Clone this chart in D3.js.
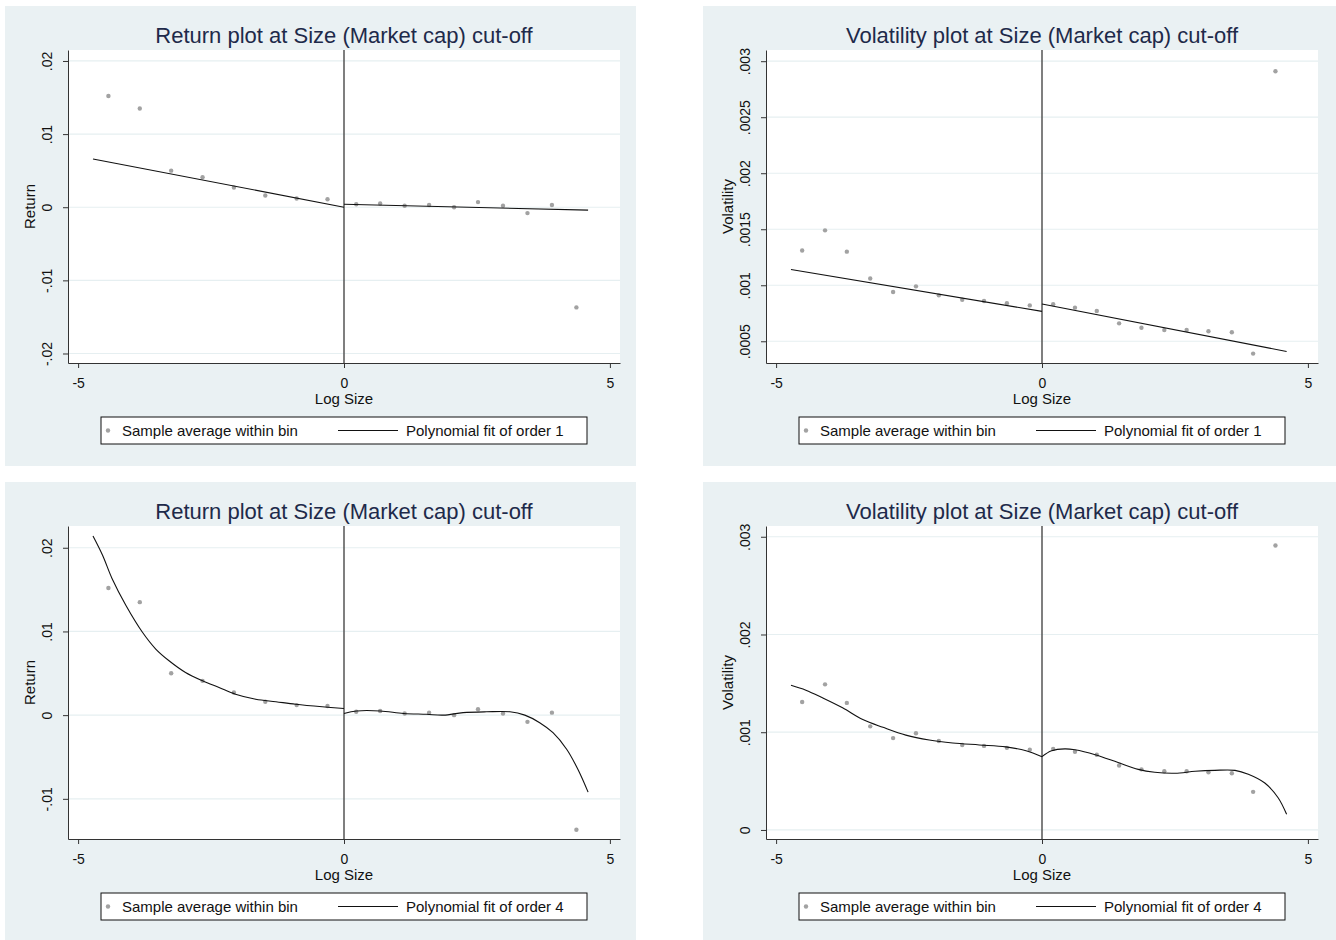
<!DOCTYPE html>
<html>
<head>
<meta charset="utf-8">
<script src="https://cdn.jsdelivr.net/npm/d3@7"></script>
<style>
  body { margin: 0; background: #fff; }
  svg { display: block; font-family: "Liberation Sans", Arial, sans-serif; }
</style>
</head>
<body>
<svg id="chart" width="1336" height="940"></svg>
<script>
// Binned sample averages of return, by log size bin centre
const returnBinX = [-4.43, -3.84, -3.25, -2.66, -2.07, -1.48, -0.89, -0.31,
                    0.23, 0.68, 1.14, 1.60, 2.07, 2.52, 2.99, 3.45, 3.91, 4.37];
const returnBinY = [.0152, .0135, .0050, .0041, .0027, .0016, .0012, .0011,
                    .0004, .0005, .0002, .0003, .0000, .0007, .0002, -.0008, .0003, -.0137];

// Binned sample averages of volatility
const volBinX = [-4.51, -4.08, -3.67, -3.23, -2.80, -2.37, -1.94, -1.50, -1.09, -0.66, -0.23,
                 0.21, 0.62, 1.03, 1.45, 1.87, 2.30, 2.72, 3.13, 3.57, 3.97, 4.39];
const volBinY = [.00131, .00149, .00130, .00106, .00094, .00099, .00091, .00087, .00086, .00084, .00082,
                 .00083, .00080, .00077, .00066, .00062, .00060, .00060, .00059, .00058, .00039, .00291];

// Fitted lines, order 1 (left and right of the cut-off)
const returnLin1Left  = [[-4.72, .0066], [0, .0000]];
const returnLin1Right = [[0, .0004], [4.59, -.0004]];
const volLin1Left  = [[-4.72, .00114], [0, .000767]];
const volLin1Right = [[0, .000833], [4.60, .000409]];

// Fitted curves, order 4
const returnPoly4Left = [[-4.72, .0214], [-4.54, .0191], [-4.36, .0163], [-4.10, .0131], [-3.79, .0099],
  [-3.54, .0079], [-3.29, .0065], [-2.98, .0051], [-2.66, .0041], [-2.35, .0033], [-2.04, .0025],
  [-1.66, .0019], [-1.28, .0016], [-0.91, .0013], [-0.41, .0010], [0, .0008]];
const returnPoly4Right = [[0, .0002], [0.24, .0005], [0.68, .0005], [1.12, .0002], [1.55, .0001],
  [1.87, .0000], [2.24, .0003], [2.68, .0004], [3.12, .0004], [3.40, .0000], [3.68, -.0009],
  [3.93, -.0021], [4.19, -.0041], [4.40, -.0065], [4.59, -.0092]];
const volPoly4Left = [[-4.72, .00148], [-4.44, .00143], [-4.12, .00135], [-3.75, .00125], [-3.37, .00113],
  [-2.99, .00105], [-2.56, .00097], [-2.12, .00092], [-1.68, .00089], [-1.18, .00087], [-0.68, .00085],
  [-0.30, .00081], [0, .00075]];
const volPoly4Right = [[0, .00075], [0.18, .00081], [0.43, .00083], [0.62, .00082], [1.00, .00077],
  [1.43, .00069], [1.81, .00062], [2.12, .00059], [2.50, .00058], [2.88, .00060], [3.25, .00061],
  [3.63, .00061], [3.88, .00057], [4.19, .00048], [4.44, .00033], [4.60, .00016]];

// Axis ticks
const xTicks = [-5, 0, 5];
const returnTicksTop = [-.02, -.01, 0, .01, .02];
const volTicksTop = [.0005, .001, .0015, .002, .0025, .003];
const returnTicksBottom = [-.01, 0, .01, .02];
const volTicksBottom = [0, .001, .002, .003];

const svg = d3.select("#chart");

// Stata style labels: drop the leading zero
const fmt = d => d === 0 ? "0" : String(d).replace(/^(-?)0\./, "$1.");

function drawPanel(p) {
  const g = svg.append("g");
  g.append("rect")
    .attr("x", p.x).attr("y", p.y).attr("width", p.w).attr("height", p.h)
    .attr("fill", "#eaf1f3");

  const left = p.x + 63, right = p.x + 615, top = p.y + 44, bottom = p.y + 357;
  g.append("rect")
    .attr("x", left).attr("y", top).attr("width", right - left).attr("height", bottom - top)
    .attr("fill", "#fff");

  const x = d3.scaleLinear().domain([-5.19, 5.19]).range([left, right]);
  const y = d3.scaleLinear().domain(p.yDomain).range([bottom, top]);

  // grid lines
  g.append("g").selectAll("line").data(p.yTicks).join("line")
    .attr("x1", left).attr("x2", right)
    .attr("y1", d => y(d)).attr("y2", d => y(d))
    .attr("stroke", "#e6eff1").attr("stroke-width", 1.2);

  // y axis
  const ya = g.append("g").attr("transform", `translate(${left},0)`)
    .call(d3.axisLeft(y).tickValues(p.yTicks).tickSize(5).tickSizeOuter(0).tickFormat(""));
  ya.select(".domain").attr("stroke", "#333");
  ya.selectAll(".tick line").attr("stroke", "#333");
  ya.selectAll(".tick").append("text")
    .attr("transform", "translate(-21,0) rotate(-90)")
    .attr("text-anchor", "middle").attr("dy", "0.35em")
    .attr("fill", "#111").style("font-size", "14px")
    .text(fmt);

  // x axis
  const xa = g.append("g").attr("transform", `translate(0,${bottom})`)
    .call(d3.axisBottom(x).tickValues(xTicks).tickSize(5).tickSizeOuter(0).tickFormat(""));
  xa.select(".domain").attr("stroke", "#333");
  xa.selectAll(".tick line").attr("stroke", "#333");
  xa.selectAll(".tick").append("text")
    .attr("y", 25).attr("text-anchor", "middle")
    .attr("fill", "#111").style("font-size", "14px")
    .text(d => d);

  // cut-off line
  g.append("line")
    .attr("x1", x(0)).attr("x2", x(0)).attr("y1", top).attr("y2", bottom)
    .attr("stroke", "#555").attr("stroke-width", 1.5);

  // bins
  g.append("g").selectAll("circle").data(p.binX).join("circle")
    .attr("cx", d => x(d)).attr("cy", (d, i) => y(p.binY[i]))
    .attr("r", 2.2).attr("fill", "#a2a2a2");

  // fit
  const line = d3.line().x(d => x(d[0])).y(d => y(d[1]))
    .curve(p.smooth ? d3.curveCatmullRom.alpha(0.5) : d3.curveLinear);
  [p.fitLeft, p.fitRight].forEach(f => {
    g.append("path").datum(f).attr("d", line)
      .attr("fill", "none").attr("stroke", "#111").attr("stroke-width", 1.1);
  });

  // titles
  g.append("text").attr("x", x(0)).attr("y", p.y + 36.5)
    .attr("text-anchor", "middle").attr("fill", "#1e2a4a").style("font-size", "22px")
    .text(p.title);
  g.append("text").attr("x", x(0)).attr("y", bottom + 41)
    .attr("text-anchor", "middle").attr("fill", "#111").style("font-size", "15px")
    .text("Log Size");
  g.append("text")
    .attr("transform", `translate(${left - 38},${(top + bottom) / 2}) rotate(-90)`)
    .attr("text-anchor", "middle").attr("dy", "0.35em")
    .attr("fill", "#111").style("font-size", "15px")
    .text(p.yLabel);

  // legend
  const ly = p.y + 411, lh = 27, lx = p.x + 96;
  g.append("rect").attr("x", lx).attr("y", ly).attr("width", 486).attr("height", lh)
    .attr("fill", "#fff").attr("stroke", "#111").attr("stroke-width", 1);
  g.append("circle").attr("cx", lx + 7).attr("cy", ly + lh / 2).attr("r", 2.2).attr("fill", "#a2a2a2");
  g.append("text").attr("x", lx + 21).attr("y", ly + lh / 2 + 5.5)
    .attr("fill", "#111").style("font-size", "15px").text("Sample average within bin");
  g.append("line").attr("x1", lx + 237).attr("x2", lx + 297)
    .attr("y1", ly + lh / 2).attr("y2", ly + lh / 2)
    .attr("stroke", "#111").attr("stroke-width", 1.1);
  g.append("text").attr("x", lx + 305).attr("y", ly + lh / 2 + 5.5)
    .attr("fill", "#111").style("font-size", "15px").text(p.fitLabel);
}

drawPanel({
  x: 5, y: 6, w: 631, h: 460,
  title: "Return plot at Size (Market cap) cut-off", yLabel: "Return",
  yDomain: [-.0213, .0215], yTicks: returnTicksTop,
  binX: returnBinX, binY: returnBinY,
  fitLeft: returnLin1Left, fitRight: returnLin1Right, smooth: false,
  fitLabel: "Polynomial fit of order 1"
});
drawPanel({
  x: 703, y: 6, w: 633, h: 460,
  title: "Volatility plot at Size (Market cap) cut-off", yLabel: "Volatility",
  yDomain: [.000306, .0031], yTicks: volTicksTop,
  binX: volBinX, binY: volBinY,
  fitLeft: volLin1Left, fitRight: volLin1Right, smooth: false,
  fitLabel: "Polynomial fit of order 1"
});
drawPanel({
  x: 5, y: 482, w: 631, h: 458,
  title: "Return plot at Size (Market cap) cut-off", yLabel: "Return",
  yDomain: [-.0148, .0226], yTicks: returnTicksBottom,
  binX: returnBinX, binY: returnBinY,
  fitLeft: returnPoly4Left, fitRight: returnPoly4Right, smooth: true,
  fitLabel: "Polynomial fit of order 4"
});
drawPanel({
  x: 703, y: 482, w: 633, h: 458,
  title: "Volatility plot at Size (Market cap) cut-off", yLabel: "Volatility",
  yDomain: [-.0000925, .00311], yTicks: volTicksBottom,
  binX: volBinX, binY: volBinY,
  fitLeft: volPoly4Left, fitRight: volPoly4Right, smooth: true,
  fitLabel: "Polynomial fit of order 4"
});
</script>
</body>
</html>
